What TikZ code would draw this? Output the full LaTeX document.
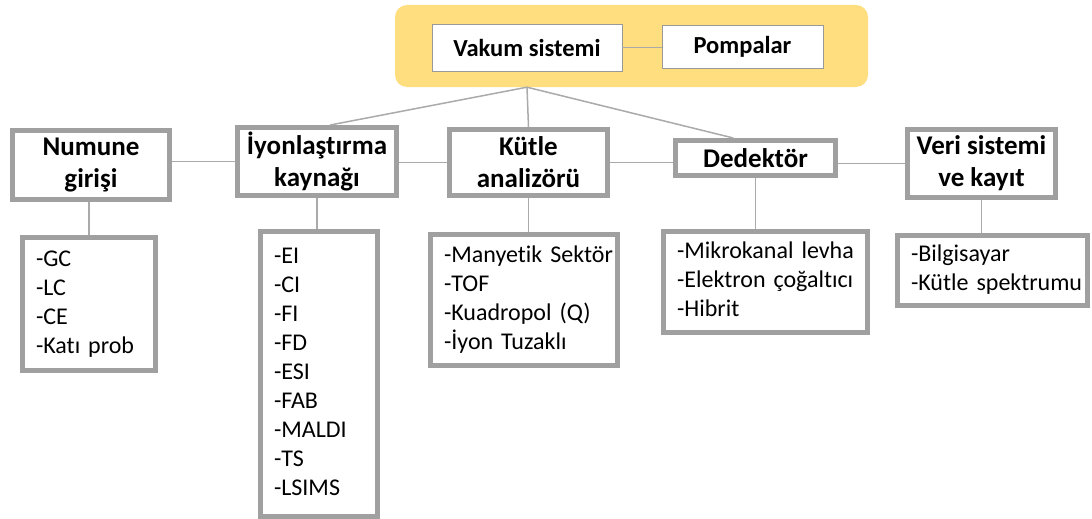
\documentclass[tikz,border=0pt]{standalone}
\usepackage{fontspec}
\setmainfont{Carlito}[Ligatures=NoCommon]
\usetikzlibrary{shadows,calc}
\definecolor{bordergray}{RGB}{160,160,160}
\definecolor{linegray}{RGB}{170,170,170}
\definecolor{topyellow}{RGB}{255,222,128}
\newcommand{\lst}[1]{\begin{tabular}{@{}l@{}}#1\end{tabular}}
\begin{document}
\begin{tikzpicture}[x=1pt,y=-1pt,
  mainbox/.style={draw=bordergray, line width=5pt, fill=white, align=center,
    font=\fontsize{27}{32}\selectfont\bfseries, inner sep=0pt,
    drop shadow={shadow xshift=1.5pt, shadow yshift=-1.5pt, opacity=0.35, fill=black!70}},
  listbox/.style={draw=bordergray, line width=5pt, fill=white, align=left,
    font=\fontsize{24}{29}\selectfont, inner xsep=13.5pt, inner ysep=0pt,
    drop shadow={shadow xshift=1.5pt, shadow yshift=-1.5pt, opacity=0.35, fill=black!70}},
  topbox/.style={draw=gray!80, line width=0.8pt, fill=white, align=center,
    font=\fontsize{24.5}{30}\selectfont\bfseries, inner sep=0pt},
  conn/.style={draw=linegray, line width=1.5pt}
]
\useasboundingbox (0,0) rectangle (1092,519);

% top yellow area
\node[fill=topyellow, rounded corners=12pt, minimum width=473pt, minimum height=82pt, inner sep=0pt] (top) at (631.5,46) {};
\node[topbox, minimum width=190pt, minimum height=47pt] (vakum) at (527,47.5) {Vakum sistemi};
\node[topbox, minimum width=161pt, minimum height=43pt] (pompa) at (742.5,46.5) {Pompalar};
\draw[conn] (vakum.east) -- (vakum.east -| pompa.west);
\coordinate (junc) at (vakum.south |- top.south);

% main row
\node[mainbox, minimum width=157pt, minimum height=69pt] (numune) at (91,165) {Numune\\girişi};
\node[mainbox, minimum width=159pt, minimum height=68pt] (iyon) at (317,161.5) {İyonlaştırma\\kaynağı};
\node[mainbox, minimum width=158pt, minimum height=66pt] (kutle) at (528.5,162.5) {Kütle\\analizörü};
\node[mainbox, minimum width=160pt, minimum height=35pt] (dedektor) at (755.5,158) {Dedektör};
\node[mainbox, minimum width=148pt, minimum height=68pt] (veri) at (981.5,163.5) {Veri sistemi\\ve kayıt};

% lists
\node[listbox, text width=106pt, minimum height=133pt] (numunelist) at (89,304) {\lst{-GC\\-LC\\-CE\\-Katı prob}};
\node[listbox, text width=90pt, minimum height=285pt] (iyonlist) at (319,374) {\lst{-EI\\-CI\\-FI\\-FD\\-ESI\\-FAB\\-MALDI\\-TS\\-LSIMS}};
\node[listbox, text width=160pt, minimum height=131pt] (kutlelist) at (524,300) {\lst{-Manyetik Sektör\\-TOF\\-Kuadropol (Q)\\-İyon Tuzaklı}};
\node[listbox, text width=177pt, minimum height=101pt] (dedektorlist) at (765.5,282) {\lst{-Mikrokanal levha\\-Elektron çoğaltıcı\\-Hibrit}};
\node[listbox, text width=163pt, minimum height=70pt] (verilist) at (992.5,270.5) {\lst{-Bilgisayar\\-Kütle spektrumu}};

% connectors from top
\draw[conn] (junc) -- (iyon.70);
\draw[conn] (junc) -- (kutle.north);
\draw[conn] (junc) -- (dedektor.138);

% horizontal connectors
\draw[conn] (iyon.west) -- (iyon.west -| numune.east);
\draw[conn] (kutle.west) -- (kutle.west -| iyon.east);
\draw[conn] (kutle.east) -- (kutle.east -| dedektor.west);
\draw[conn] (veri.west) -- (veri.west -| dedektor.east);

% vertical connectors
\draw[conn] (numunelist.north) -- (numunelist.north |- numune.south);
\draw[conn] (iyon.south) -- (iyon.south |- iyonlist.north);
\draw[conn] (kutle.south) -- (kutle.south |- kutlelist.north);
\draw[conn] (dedektor.south) -- (dedektor.south |- dedektorlist.north);
\draw[conn] (veri.south) -- (veri.south |- verilist.north);
\end{tikzpicture}
\end{document}
